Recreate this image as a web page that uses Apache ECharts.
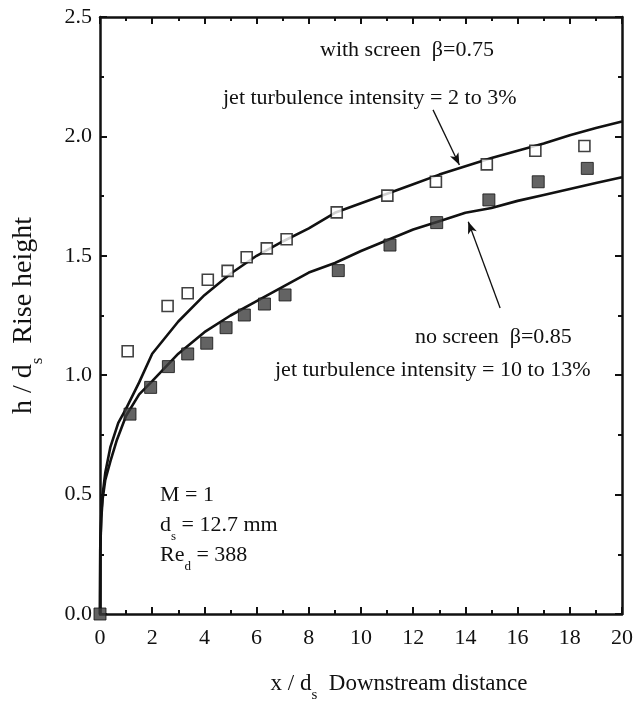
<!DOCTYPE html>
<html>
<head>
<meta charset="utf-8">
<script src="https://cdn.jsdelivr.net/npm/echarts@6/dist/echarts.min.js"></script>
<style>
  html, body { margin: 0; padding: 0; background: #fff; }
  #chart { width: 639px; height: 702px; }
</style>
</head>
<body>
<div id="chart"></div>
<script>
// Measured rise height h/ds against downstream distance x/ds
const withScreenX = [1.06, 2.59, 3.36, 4.13, 4.89, 5.62, 6.39, 7.15, 9.07, 11.01, 12.87, 14.82, 16.68, 18.56];
const withScreenY = [1.10, 1.29, 1.343, 1.40, 1.437, 1.494, 1.531, 1.569, 1.682, 1.752, 1.810, 1.883, 1.940, 1.960];

const noScreenX = [0, 1.15, 1.94, 2.62, 3.36, 4.09, 4.83, 5.53, 6.30, 7.09, 9.13, 11.11, 12.90, 14.90, 16.79, 18.67];
const noScreenY = [0, 0.837, 0.949, 1.036, 1.089, 1.134, 1.199, 1.252, 1.298, 1.336, 1.438, 1.545, 1.639, 1.734, 1.810, 1.866];

// Model curves
const curveUpperX = [0, 0.01, 0.05, 0.1, 0.2, 0.4, 0.7, 1.0, 1.5, 2.0, 3, 4, 5, 6, 7, 8, 9, 10, 11, 12, 13, 14, 15, 16, 17, 18, 19, 20];
const curveUpperY = [0, 0.28, 0.42, 0.50, 0.59, 0.70, 0.80, 0.86, 0.97, 1.09, 1.225, 1.335, 1.425, 1.50, 1.56, 1.615, 1.68, 1.72, 1.76, 1.80, 1.84, 1.875, 1.91, 1.94, 1.97, 2.005, 2.035, 2.062];

const curveLowerX = [0, 0.01, 0.05, 0.1, 0.2, 0.4, 0.65, 1.0, 1.5, 2, 3, 4, 5, 6, 7, 8, 9, 10, 11, 12, 13, 14, 15, 16, 17, 18, 19, 20];
const curveLowerY = [0, 0.27, 0.40, 0.48, 0.56, 0.64, 0.73, 0.83, 0.92, 0.975, 1.09, 1.18, 1.25, 1.31, 1.37, 1.43, 1.47, 1.52, 1.565, 1.61, 1.645, 1.68, 1.70, 1.73, 1.755, 1.78, 1.805, 1.829];

// Arrow endpoints [from, to] in data units
const arrowUpper = [[12.76, 2.111], [13.77, 1.880]];
const arrowLower = [[15.33, 1.281], [14.11, 1.643]];

const xTicks = [0, 2, 4, 6, 8, 10, 12, 14, 16, 18, 20];

const zip = (xs, ys) => xs.map((x, i) => [x, ys[i]]);

const SERIF = '"Liberation Serif", "Times New Roman", serif';
const INK = '#111';

const axisCommon = {
  type: 'value',
  axisLine: { show: true, onZero: false, lineStyle: { color: INK, width: 2.5 } },
  axisTick: { show: true, inside: true, length: 7, lineStyle: { color: INK, width: 2 } },
  minorTick: { show: true, splitNumber: 2, length: 4, lineStyle: { color: INK, width: 2 } },
  splitLine: { show: false },
  minorSplitLine: { show: false }
};

const chart = echarts.init(document.getElementById('chart'), null, { renderer: 'canvas' });

const NOTE_SIZE = 22;
const noteRich = {
  n: { fontFamily: SERIF, fontSize: NOTE_SIZE, color: INK, lineHeight: 26, verticalAlign: 'bottom' },
  s: { fontFamily: SERIF, fontSize: 13, color: INK, lineHeight: 26, verticalAlign: 'bottom', padding: [0, 0, -7, 0] }
};

// annotation placed by its left edge and text baseline
function note(x, baseline, text) {
  return {
    type: 'text', left: x, top: baseline - 16, z: 10,
    style: { text: text, rich: noteRich, fontFamily: SERIF, fontSize: NOTE_SIZE, fill: INK }
  };
}

function titleRich(size, sub) {
  return {
    n: { fontFamily: SERIF, fontSize: size, color: INK, lineHeight: size + 4, verticalAlign: 'bottom' },
    s: { fontFamily: SERIF, fontSize: sub, color: INK, lineHeight: size + 4, verticalAlign: 'bottom', padding: [0, 0, -8, 0] }
  };
}

chart.setOption({
  animation: false,
  backgroundColor: '#fff',
  grid: { left: 100, right: 17, top: 17, bottom: 88, outerBoundsMode: 'none' },
  xAxis: [
    Object.assign({}, axisCommon, {
      min: 0, max: 20, interval: 2,
      position: 'bottom',
      axisLabel: {
        color: INK, fontFamily: SERIF, fontSize: 22, margin: 13,
        customValues: xTicks,
        formatter: v => String(v)
      },
      name: '{n|x / d}{s|s}{n|  Downstream distance}',
      nameLocation: 'middle',
      nameGap: 54,
      nameTextStyle: { padding: [0, 0, 0, 76], rich: titleRich(23, 15) }
    }),
    Object.assign({}, axisCommon, {
      min: 0, max: 20, interval: 2,
      position: 'top',
      axisLabel: { show: false }
    })
  ],
  yAxis: [
    Object.assign({}, axisCommon, {
      min: 0, max: 2.5, interval: 0.5,
      position: 'left',
      axisLabel: {
        color: INK, fontFamily: SERIF, fontSize: 22, margin: 8,
        formatter: v => v.toFixed(1)
      },
      name: '{n|h / d}{s|s}{n|  Rise height}',
      nameLocation: 'middle',
      nameRotate: 90,
      nameGap: 62,
      nameTextStyle: { rich: titleRich(28, 17) }
    }),
    Object.assign({}, axisCommon, {
      min: 0, max: 2.5, interval: 0.5,
      position: 'right',
      axisLabel: { show: false }
    })
  ],
  series: [
    {
      name: 'with screen curve', type: 'line', data: zip(curveUpperX, curveUpperY),
      showSymbol: false, symbol: 'none', smooth: false,
      lineStyle: { color: INK, width: 2.6 }, z: 3
    },
    {
      name: 'no screen curve', type: 'line', data: zip(curveLowerX, curveLowerY),
      showSymbol: false, symbol: 'none', smooth: false,
      lineStyle: { color: INK, width: 2.6 }, z: 3
    },
    {
      name: 'with screen', type: 'scatter', data: zip(withScreenX, withScreenY),
      symbol: 'rect', symbolSize: 11,
      itemStyle: { color: '#fff', borderColor: INK, borderWidth: 1.6 }, z: 5
    },
    {
      name: 'no screen', type: 'scatter', data: zip(noScreenX, noScreenY),
      symbol: 'rect', symbolSize: 12, clip: false,
      itemStyle: { color: '#3c3c3c', borderColor: '#111', borderWidth: 1 }, z: 5
    },
    {
      name: 'arrows', type: 'line', data: [], silent: true,
      markLine: {
        silent: true, animation: false,
        symbol: ['none', 'arrow'], symbolSize: [7, 12],
        label: { show: false },
        lineStyle: { color: INK, width: 1.3, type: 'solid' },
        data: [
          [{ coord: arrowUpper[0] }, { coord: arrowUpper[1] }],
          [{ coord: arrowLower[0] }, { coord: arrowLower[1] }]
        ]
      }
    }
  ],
  graphic: [
    note(320, 55, '{n|with screen  β=0.75}'),
    note(223, 103, '{n|jet turbulence intensity = 2 to 3%}'),
    note(415, 342, '{n|no screen  β=0.85}'),
    note(275, 375, '{n|jet turbulence intensity = 10 to 13%}'),
    note(160, 500, '{n|M = 1}'),
    note(160, 530, '{n|d}{s|s}{n| = 12.7 mm}'),
    note(160, 560, '{n|Re}{s|d}{n| = 388}')
  ]
});
</script>
</body>
</html>
